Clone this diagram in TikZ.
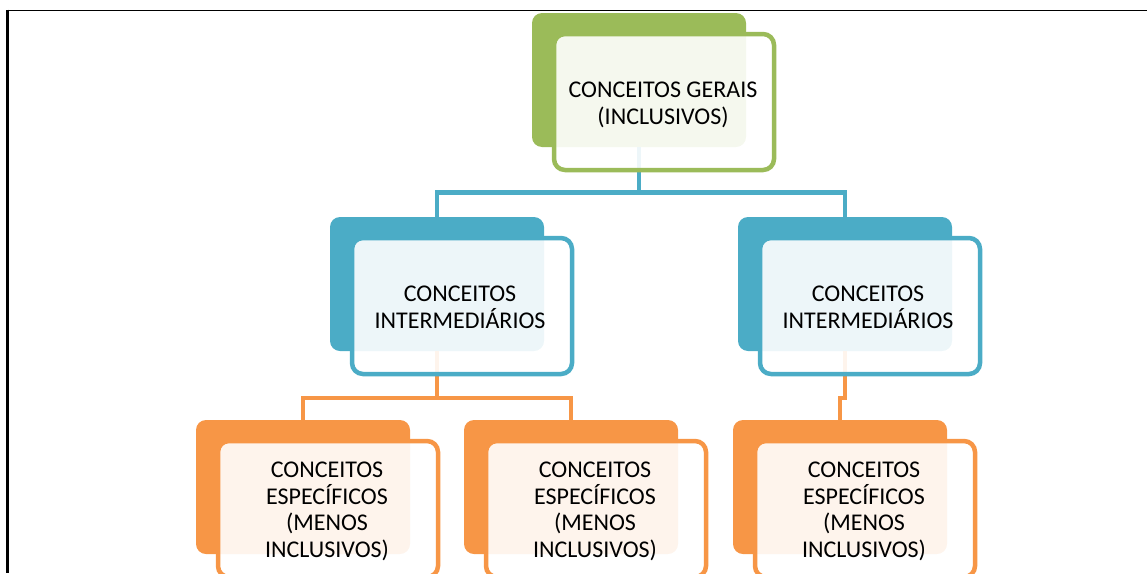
\documentclass[tikz,border=0pt]{standalone}
\usepackage{fontspec}
\setmainfont{Carlito}
\definecolor{cgreen}{HTML}{9BBB59}
\definecolor{cblue}{HTML}{4BACC6}
\definecolor{corange}{HTML}{F79646}
\tikzset{
  backbox/.style={rounded corners=10pt, fill=#1, minimum width=214pt, minimum height=134pt, inner sep=0pt},
  frontbox/.style={rounded corners=11pt, draw=#1, line width=4.5pt, fill=white, fill opacity=0.9,
    minimum width=220pt, minimum height=136pt, inner sep=0pt},
  boxtext/.style={inner sep=0pt, align=center, font=\fontsize{24}{26.7}\selectfont},
  conn/.style={draw=#1, line width=4.5pt},
  framerule/.style={draw=black, line width=1.8pt}
}
\begin{document}
\begin{tikzpicture}[x=1pt,y=-1pt]
\useasboundingbox (0,0) rectangle (1147,573);
\clip (0,0) rectangle (1147,573);
% frame
\draw[framerule] (7,10.5) -- (1147,10.5);
\draw[framerule, line width=2.2pt] (7.5,9.7) -- (7.5,573);
% back boxes
\node[backbox=cgreen]  (gb)  at (639,80) {};
\node[backbox=cblue]   (i1b) at (437,284) {};
\node[backbox=cblue]   (i2b) at (845,284) {};
\node[backbox=corange] (e1b) at (303,487) {};
\node[backbox=corange] (e2b) at (571,487) {};
\node[backbox=corange] (e3b) at (840,487) {};
% connectors
\coordinate (bus1) at (639,192.5);
\draw[conn=cblue] (gb.south) -- (bus1) -| (i1b.north);
\draw[conn=cblue] (bus1) -| (i2b.north);
\coordinate (bus2) at (437,398);
\draw[conn=corange] (i1b.south) -- (bus2) -| (e1b.north);
\draw[conn=corange] (bus2) -| (e2b.north);
\draw[conn=corange] (i2b.south) -- ++(0,47) -| (e3b.north);
% front boxes
\node[frontbox=cgreen]  (g)  at (664,102) {};
\node[frontbox=cblue]   (i1) at (462,306) {};
\node[frontbox=cblue]   (i2) at (870,306) {};
\node[frontbox=corange] (e1) at (328,509) {};
\node[frontbox=corange] (e2) at (596,509) {};
\node[frontbox=corange] (e3) at (865,509) {};
% texts
\node[boxtext] (gt)  at ([xshift=-1pt,yshift=-3pt]g.center)  {CONCEITOS GERAIS\\(INCLUSIVOS)};
\node[boxtext] (i1t) at ([xshift=-2pt,yshift=-1.5pt]i1.center) {CONCEITOS\\INTERMEDIÁRIOS};
\node[boxtext] (i2t) at ([xshift=-2pt,yshift=-1.5pt]i2.center) {CONCEITOS\\INTERMEDIÁRIOS};
\node[boxtext] (e1t) at ([xshift=-1pt,yshift=-2.5pt]e1.center) {CONCEITOS\\ESPECÍFICOS\\(MENOS\\INCLUSIVOS)};
\node[boxtext] (e2t) at ([xshift=-1pt,yshift=-2.5pt]e2.center) {CONCEITOS\\ESPECÍFICOS\\(MENOS\\INCLUSIVOS)};
\node[boxtext] (e3t) at ([xshift=-1pt,yshift=-2.5pt]e3.center) {CONCEITOS\\ESPECÍFICOS\\(MENOS\\INCLUSIVOS)};
\end{tikzpicture}
\end{document}
